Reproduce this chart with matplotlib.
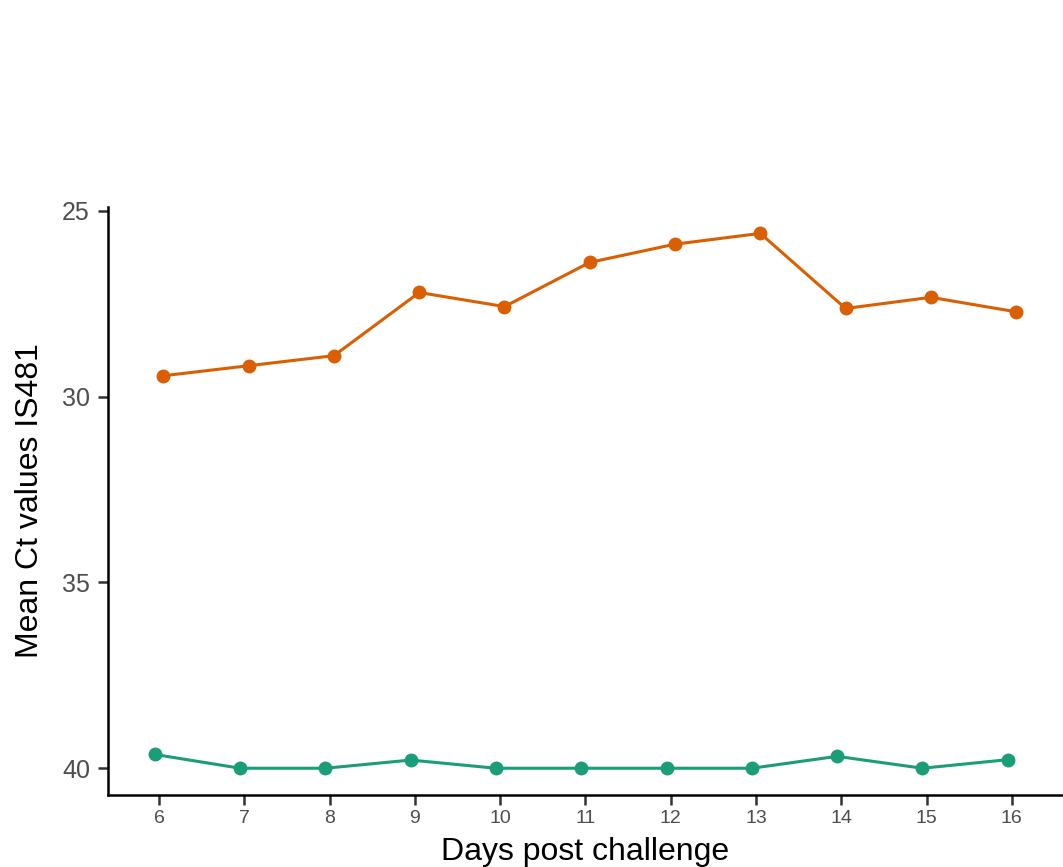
import matplotlib
matplotlib.use("Agg")
import matplotlib.pyplot as plt
import numpy as np

plt.rcParams['font.family'] = ['Liberation Sans', 'DejaVu Sans']

days = [6, 7, 8, 9, 10, 11, 12, 13, 14, 15, 16]
ct_high = [29.44, 29.17, 28.90, 27.20, 27.58, 26.39, 25.90, 25.61, 27.63, 27.33, 27.72]
ct_low = [39.63, 40.00, 40.00, 39.78, 40.00, 40.00, 40.00, 40.00, 39.68, 40.00, 39.77]
y_ticks = [25, 30, 35, 40]

orange = "#D95F02"
green = "#1B9E77"
dodge = 0.05

fig = plt.figure(figsize=(10.63, 8.67), dpi=100)
ax = fig.add_axes([108 / 1063, 72 / 867, 1 - 108 / 1063, (795 - 207) / 867])

x = np.array(days, dtype=float)
ax.plot(x - dodge, ct_low, color=green, lw=2.2, marker="o", ms=9, zorder=3)
ax.plot(x + dodge, ct_high, color=orange, lw=2.2, marker="o", ms=9, zorder=3)

ax.set_xlim(5.4, 16.6)
ax.set_ylim(40.72, 24.9)
ax.set_xticks(days)
ax.set_xticklabels([str(d) for d in days])
ax.set_yticks(y_ticks)

for s in ["top", "right"]:
    ax.spines[s].set_visible(False)
for s in ["left", "bottom"]:
    ax.spines[s].set_linewidth(1.8)
    ax.spines[s].set_color("black")

ax.tick_params(axis="x", length=7, width=1.8, color="#333333", labelsize=14,
               labelcolor="#4D4D4D", pad=4)
ax.tick_params(axis="y", length=7, width=1.8, color="#333333", labelsize=18,
               labelcolor="#4D4D4D", pad=6)

ax.set_xlabel("Days post challenge", fontsize=23, color="black", labelpad=7)
ax.set_ylabel("Mean Ct values IS481", fontsize=23, color="black", labelpad=12)

fig.savefig("out.png", dpi=100)
